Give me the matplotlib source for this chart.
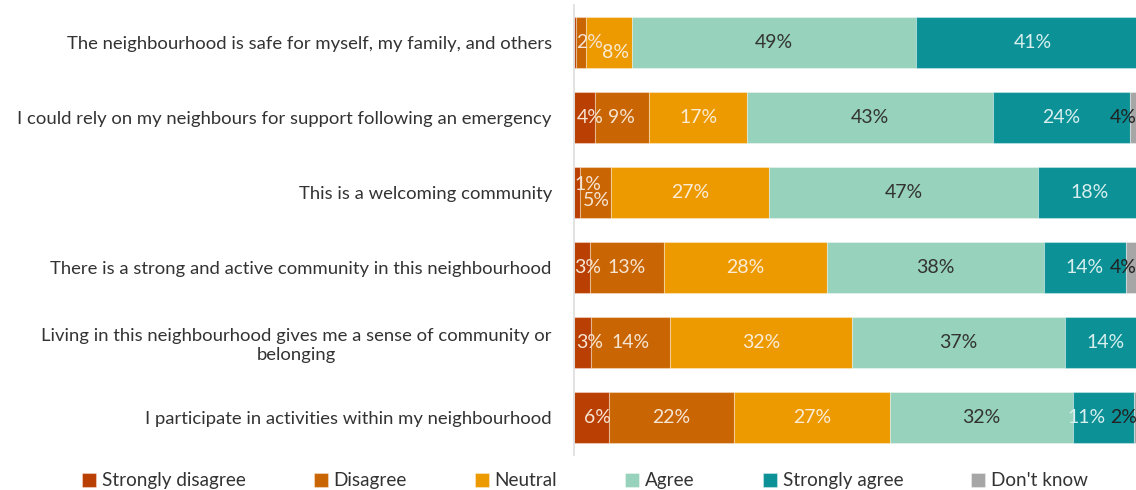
import matplotlib.pyplot as plt
import numpy as np

plt.rcParams['font.family'] = ['Lato', 'DejaVu Sans']

# statements, top to bottom
statements = [
    'The neighbourhood is safe for myself, my family, and others',
    'I could rely on my neighbours for support following an emergency',
    'This is a welcoming community',
    'There is a strong and active community in this neighbourhood',
    'Living in this neighbourhood gives me a sense of community or\nbelonging',
    'I participate in activities within my neighbourhood',
]
responses = ['Strongly disagree', 'Disagree', 'Neutral', 'Agree', 'Strongly agree', "Don't know"]

# percentages
strongly_disagree = [0.4, 3.6, 1.0, 2.8, 2.9, 6.1]
disagree = [1.6, 9.4, 5.4, 12.8, 13.7, 21.6]
neutral = [8.0, 17.0, 27.4, 28.2, 31.6, 27.0]
agree = [49.2, 42.6, 46.6, 37.6, 36.9, 31.7]
strongly_agree = [40.8, 23.7, 18.0, 14.2, 14.0, 10.7]
dont_know = [0.0, 3.7, 1.6, 4.0, 0.9, 2.0]

colours = ['#ba3f03', '#c96502', '#ed9a00', '#96d2bc', '#0b9196', '#a6a6a6']
text_colours = ['#f6e4d2', '#f6e4d2', '#fbecd6', '#333333', '#d8efee', '#222222']

# labels nudged where small segments overlap (dx, dy in points)
nudges = {(0, 1): (6, 0), (0, 2): (5, -7), (2, 0): (8, 6), (2, 1): (1, -6),
          (1, 0): (4, 0), (3, 0): (4, 0), (4, 0): (5, 0), (5, 0): (4, 0),
          (5, 4): (-12, 0), (1, 5): (-12, 0), (3, 5): (-10, 0), (5, 5): (-12, 0)}

series = [strongly_disagree, disagree, neutral, agree, strongly_agree, dont_know]

fig = plt.figure(figsize=(11.36, 4.9), dpi=100)
ax = fig.add_axes([574 / 1136, 35 / 490, 1 - 574 / 1136, 450 / 490])

y = np.arange(len(statements))
left = np.zeros(len(statements))
for j, (vals, name) in enumerate(zip(series, responses)):
    vals = np.array(vals)
    ax.barh(y, vals, left=left, height=0.667, color=colours[j], label=name,
            edgecolor=(1, 1, 1, 0.35), linewidth=0.8)
    for i, v in enumerate(vals):
        if v < 0.9 or (j == 5 and i in (2, 4)):
            continue
        dx, dy = nudges.get((i, j), (0, 0))
        ax.annotate(f'{round(v)}%', (left[i] + v / 2, y[i]), xytext=(dx, dy),
                    textcoords='offset points', ha='center', va='center',
                    fontsize=14, color=text_colours[j], clip_on=True,
                    annotation_clip=False)
    left += vals

ax.set_xlim(0, 97.4)
ax.set_ylim(5.5, -0.5)
ax.set_yticks(y)
ax.set_yticklabels(statements, fontsize=13.3, color='#333333', multialignment='center')
ax.tick_params(axis='y', length=0, pad=16)
ax.set_xticks([])
for s in ['top', 'right', 'bottom']:
    ax.spines[s].set_visible(False)
ax.spines['left'].set_color('#dddddd')
ax.spines['left'].set_linewidth(1.2)

fig.legend(loc='center', bbox_to_anchor=(585 / 1136, 0.019), ncol=6, frameon=False,
           fontsize=13.6, handlelength=0.75, handleheight=0.75, handletextpad=0.3,
           columnspacing=3.6, labelcolor='#333333')

fig.savefig('out.png', dpi=100)
